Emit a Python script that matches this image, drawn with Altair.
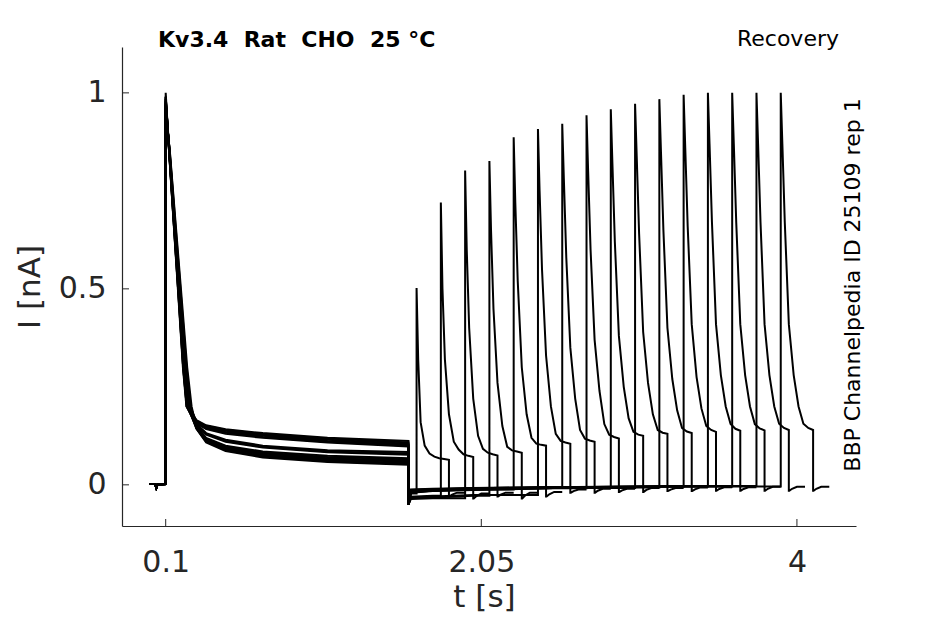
import altair as alt
import pandas as pd

# ---------------- data ----------------
t_pre = [0.0, 0.035, 0.042, 0.05, 0.1]
y_pre = [0.002, 0.002, -0.008, 0.001, 0.002]
t_on1 = 0.1
t_end1 = 1.6

# second-pulse onsets (s), one per sweep
onset2 = [1.65, 1.80, 1.95, 2.10, 2.25, 2.40, 2.55, 2.70,
          2.85, 3.00, 3.15, 3.30, 3.45, 3.60, 3.75, 3.90]

# first-pulse peaks (normalised current)
peak1 = [1.0, 0.99, 0.98, 0.97, 0.985, 0.96, 0.99, 0.975,
         0.95, 0.98, 0.97, 0.93, 0.99, 0.96, 0.985, 0.975]

# duration of the fast inactivating phase of pulse 1 (s)
fast_dur = [0.13, 0.135, 0.14, 0.128, 0.145, 0.15, 0.132, 0.138,
            0.155, 0.142, 0.135, 0.16, 0.13, 0.148, 0.136, 0.14]
fast_pos = [0.15, 0.38, 0.6, 0.83, 1.0]
fast_val = [0.86, 0.67, 0.49, 0.30, 0.20]

# slow phase of pulse 1: times after pulse onset (s) and values per sweep
slow_dt = [0.19, 0.25, 0.37, 0.6, 1.0, 1.5]
slow_val = [
    [0.165, 0.152, 0.142, 0.132, 0.120, 0.112],
    [0.150, 0.120, 0.100, 0.085, 0.074, 0.068],
    [0.163, 0.150, 0.140, 0.130, 0.118, 0.108],
    [0.155, 0.132, 0.115, 0.100, 0.088, 0.084],
    [0.148, 0.118, 0.098, 0.082, 0.071, 0.065],
    [0.162, 0.148, 0.138, 0.128, 0.115, 0.105],
    [0.147, 0.116, 0.095, 0.080, 0.068, 0.062],
    [0.160, 0.146, 0.135, 0.125, 0.112, 0.102],
    [0.153, 0.130, 0.112, 0.097, 0.085, 0.080],
    [0.146, 0.114, 0.093, 0.077, 0.065, 0.059],
    [0.158, 0.144, 0.133, 0.122, 0.110, 0.100],
    [0.145, 0.112, 0.090, 0.074, 0.062, 0.056],
    [0.152, 0.128, 0.110, 0.095, 0.083, 0.077],
    [0.157, 0.142, 0.130, 0.120, 0.108, 0.098],
    [0.144, 0.110, 0.088, 0.072, 0.060, 0.053],
    [0.143, 0.108, 0.086, 0.070, 0.058, 0.051],
]

# holding current between the pulses
dip_val = -0.05
hold_t = [1.615, 1.75, 2.0, 2.5, 3.2, 3.9]
hold_val = [
    [-0.022, -0.018, -0.014, -0.010, -0.006, -0.003],
    [-0.030, -0.028, -0.024, -0.016, -0.010, -0.005],
    [-0.036, -0.034, -0.030, -0.020, -0.012, -0.006],
    [-0.034, -0.032, -0.028, -0.018, -0.010, -0.005],
    [-0.018, -0.015, -0.012, -0.009, -0.006, -0.003],
    [-0.032, -0.030, -0.026, -0.017, -0.010, -0.005],
    [-0.016, -0.014, -0.011, -0.008, -0.005, -0.002],
    [-0.020, -0.016, -0.013, -0.009, -0.006, -0.003],
    [-0.015, -0.013, -0.010, -0.007, -0.004, -0.002],
    [-0.018, -0.015, -0.012, -0.008, -0.005, -0.002],
    [-0.014, -0.012, -0.010, -0.007, -0.004, -0.001],
    [-0.017, -0.014, -0.011, -0.008, -0.005, -0.002],
    [-0.013, -0.011, -0.009, -0.006, -0.004, -0.001],
    [-0.016, -0.013, -0.010, -0.007, -0.004, -0.002],
    [-0.012, -0.010, -0.008, -0.006, -0.003, -0.001],
    [-0.015, -0.012, -0.009, -0.006, -0.004, -0.002],
]

# second (test) pulse: time after onset (s) and current per sweep
p2_dt = [0.0, 0.01, 0.025, 0.05, 0.08, 0.11, 0.14, 0.17, 0.2]
p2_val = [
    [0.502, 0.32, 0.16, 0.100, 0.080, 0.072, 0.068, 0.066, 0.064],
    [0.720, 0.50, 0.32, 0.180, 0.110, 0.090, 0.078, 0.074, 0.071],
    [0.802, 0.60, 0.40, 0.220, 0.125, 0.092, 0.082, 0.078, 0.075],
    [0.826, 0.65, 0.45, 0.260, 0.150, 0.097, 0.088, 0.085, 0.082],
    [0.887, 0.72, 0.52, 0.300, 0.180, 0.120, 0.105, 0.102, 0.100],
    [0.908, 0.75, 0.55, 0.330, 0.200, 0.130, 0.112, 0.108, 0.105],
    [0.921, 0.78, 0.58, 0.350, 0.220, 0.140, 0.118, 0.113, 0.110],
    [0.943, 0.80, 0.60, 0.370, 0.240, 0.155, 0.128, 0.122, 0.118],
    [0.958, 0.82, 0.62, 0.380, 0.250, 0.170, 0.135, 0.128, 0.125],
    [0.972, 0.84, 0.64, 0.390, 0.260, 0.180, 0.140, 0.133, 0.130],
    [0.984, 0.85, 0.65, 0.400, 0.270, 0.190, 0.145, 0.136, 0.132],
    [0.995, 0.86, 0.66, 0.410, 0.275, 0.195, 0.150, 0.140, 0.135],
    [1.000, 0.87, 0.67, 0.410, 0.280, 0.200, 0.155, 0.143, 0.138],
    [1.000, 0.87, 0.67, 0.410, 0.280, 0.200, 0.155, 0.144, 0.139],
    [1.000, 0.87, 0.67, 0.410, 0.280, 0.200, 0.156, 0.145, 0.140],
    [1.000, 0.87, 0.67, 0.410, 0.280, 0.200, 0.156, 0.145, 0.140],
]

# tail after the test pulse
tail_dt = [0.0, 0.003, 0.02, 0.05, 0.1]
tail_min = [-0.030, -0.035, -0.030, -0.035, -0.030, -0.020, -0.020, -0.018,
            -0.018, -0.016, -0.016, -0.015, -0.015, -0.015, -0.015, -0.015]
tail_rest = [-0.020, -0.022, -0.020, -0.020, -0.018, -0.012, -0.010, -0.010,
             -0.008, -0.008, -0.007, -0.006, -0.006, -0.005, -0.005, -0.005]

x_ticks = [0.1, 2.05, 4]
y_ticks = [0, 0.5, 1]
x_domain = [-0.17, 4.365]
y_domain = [-0.105, 1.117]

title_left = "Kv3.4\u00a0\u00a0Rat\u00a0\u00a0CHO\u00a0\u00a025\u00a0°C"
title_right = "Recovery"
side_label = "BBP Channelpedia ID 25109 rep 1"

# ---------------- build the trace table ----------------
rows = []
for s in range(len(onset2)):
    pts = []
    pts += list(zip(t_pre, y_pre))
    pts.append((t_on1, peak1[s]))
    for f, v in zip(fast_pos, fast_val):
        pts.append((t_on1 + f * fast_dur[s], v))
    for d, v in zip(slow_dt, slow_val[s]):
        pts.append((t_on1 + d, v))
    pts.append((t_end1, dip_val))
    last = dip_val
    for ht, hv in zip(hold_t, hold_val[s]):
        if ht < onset2[s]:
            pts.append((ht, hv))
            last = hv
    pts.append((onset2[s], last))
    for d, v in zip(p2_dt, p2_val[s]):
        pts.append((onset2[s] + d, v))
    te = onset2[s] + p2_dt[-1]
    tail = [tail_min[s], tail_min[s], (tail_min[s] + tail_rest[s]) / 2,
            tail_rest[s], tail_rest[s]]
    for d, v in zip(tail_dt, tail):
        pts.append((te + d, v))
    for i, (t, y) in enumerate(pts):
        rows.append({"sweep": s, "i": i, "t": t, "y": y})

df = pd.DataFrame(rows)

W, H = 734, 479
FONT = "DejaVu Sans"
GREY = "#262626"

xscale = alt.Scale(domain=x_domain, nice=False, zero=False)
yscale = alt.Scale(domain=y_domain, nice=False, zero=False)

xaxis = alt.Axis(values=x_ticks, labelExpr="datum.value", grid=False,
                 ticks=False, labelPadding=21, labelFontSize=30,
                 labelColor=GREY, labelFont=FONT, domainColor=GREY,
                 domainWidth=1.2, titleFont=FONT, titleFontSize=31,
                 titleFontWeight="normal", titleColor=GREY,
                 titlePadding=5, titleX=362, labelFlush=False)
yaxis = alt.Axis(values=y_ticks, labelExpr="datum.value", grid=False,
                 ticks=False, labelPadding=16, labelFontSize=30,
                 labelColor=GREY, labelFont=FONT, domainColor=GREY,
                 domainWidth=1.2, titleFont=FONT, titleFontSize=31,
                 titleFontWeight="normal", titleColor=GREY,
                 titlePadding=12, labelFlush=False)

lines = alt.Chart(df).mark_line(color="black", strokeWidth=2).encode(
    x=alt.X("t:Q", scale=xscale, title="t [s]", axis=xaxis),
    y=alt.Y("y:Q", scale=yscale, title="I [nA]", axis=yaxis),
    detail="sweep:N",
    order="i:Q",
)

yt = alt.Chart(pd.DataFrame({"v": y_ticks})).mark_rule(color=GREY, strokeWidth=1).encode(
    y=alt.Y("v:Q", scale=yscale, title="I [nA]", axis=yaxis),
    x=alt.value(0), x2=alt.value(7))
xt = alt.Chart(pd.DataFrame({"v": x_ticks})).mark_rule(color=GREY, strokeWidth=1).encode(
    x=alt.X("v:Q", scale=xscale, title="t [s]", axis=xaxis),
    y=alt.value(H - 7), y2=alt.value(H))

t1 = alt.Chart(pd.DataFrame({"s": [title_left]})).mark_text(
    font=FONT, fontSize=22, fontWeight="bold", color="black",
    align="left", baseline="alphabetic").encode(
    text="s:N", x=alt.value(36), y=alt.value(0))
t2 = alt.Chart(pd.DataFrame({"s": [title_right]})).mark_text(
    font=FONT, fontSize=22, color="black",
    align="right", baseline="alphabetic").encode(
    text="s:N", x=alt.value(717), y=alt.value(-1))
t3 = alt.Chart(pd.DataFrame({"s": [side_label]})).mark_text(
    font=FONT, fontSize=22, color="black", angle=270,
    align="center", baseline="alphabetic").encode(
    text="s:N", x=alt.value(738), y=alt.value(238))

chart = alt.layer(lines, yt, xt, t1, t2, t3).properties(
    width=W, height=H,
    autosize=alt.AutoSizeParams(type="none"),
    padding={"left": 114, "top": 39, "right": 70, "bottom": 92},
).configure_view(stroke=None)

chart.save("out.html", embed_options={"renderer": "svg", "actions": False})
